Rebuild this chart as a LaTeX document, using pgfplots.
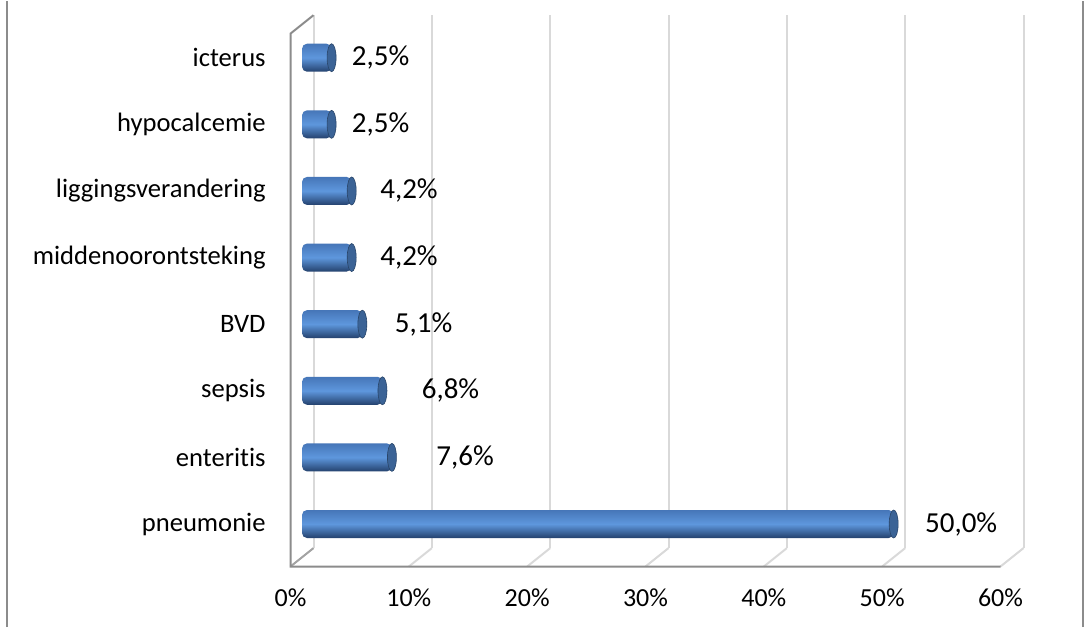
\documentclass[border=0pt]{standalone}
\usepackage{pgfplots}
\pgfplotsset{compat=1.18}
\usepackage{pgfplotstable}
\usepackage{fontspec}
\setmainfont{Carlito}[Ligatures=NoCommon]
\definecolor{barTop}{HTML}{4676B8}
\definecolor{barMid}{HTML}{5E97DD}
\definecolor{barBot}{HTML}{24416D}
\definecolor{capC}{HTML}{3B6396}
\definecolor{lightG}{HTML}{D9D9D9}
\definecolor{darkG}{HTML}{8C8C8C}
\pgfdeclareplotmark{cylcap}{%
  \pgfpathellipse{\pgfpointorigin}{\pgfqpoint{2.25pt}{0pt}}{\pgfqpoint{0pt}{7pt}}%
  \pgfusepathqfillstroke}
\pgfplotstableread{
pos value labx
0 50.0 55.7
1 7.6 13.78
2 6.8 12.55
3 5.1 10.27
4 4.2 9.04
5 4.2 9.04
6 2.5 6.64
7 2.5 6.64
}\datatable
\begin{document}
\begin{tikzpicture}
\path (0,0) rectangle (542.5pt,313pt);
\draw[darkG, line width=1pt] (3.5pt,0) -- (3.5pt,313pt);
\draw[darkG, line width=1pt] (541.6pt,0) -- (541.6pt,313pt);
\begin{axis}[
  set layers,
  at={(151pt,34.85pt)}, anchor=south west,
  scale only axis, width=355pt, height=266.45pt,
  xmin=0, xmax=60, ymin=-0.5, ymax=7.5,
  clip=false,
  axis line style={draw=none},
  tick style={draw=none},
  xtick={0,10,20,30,40,50,60},
  xticklabels={0\%,10\%,20\%,30\%,40\%,50\%,60\%},
  xticklabel style={font=\fontsize{13}{15}\selectfont, inner sep=0pt, anchor=north, yshift=-15.5pt, xshift=-5.75pt},
  ytick={0,...,7},
  yticklabels={pneumonie,enteritis,sepsis,BVD,middenoorontsteking,liggingsverandering,hypocalcemie,icterus},
  yticklabel style={font=\fontsize{13.3}{16}\selectfont, inner sep=0pt, anchor=east, xshift=-18pt},
]
\begin{pgfonlayer}{axis background}
\pgfplotsinvokeforeach{10,20,30,40,50,60}{
  \draw[lightG, line width=1pt] ([xshift=5.75pt,yshift=4.6pt]axis cs:#1,-0.5) -- ([xshift=5.75pt,yshift=4.6pt]axis cs:#1,7.5);
  \draw[lightG, line width=1pt] ([xshift=-5.75pt,yshift=-4.6pt]axis cs:#1,-0.5) -- ([xshift=5.75pt,yshift=4.6pt]axis cs:#1,-0.5);
}
\draw[lightG, line width=1pt] ([xshift=5.75pt,yshift=4.6pt]axis cs:0,-0.5) -- ([xshift=5.75pt,yshift=4.6pt]axis cs:0,7.5);
\draw[darkG!80, line width=1pt] ([xshift=-5.75pt,yshift=-4.6pt]axis cs:0,-0.5) -- ([xshift=5.75pt,yshift=4.6pt]axis cs:0,-0.5);
\draw[darkG, line width=1pt] ([xshift=-5.75pt,yshift=-4.6pt]axis cs:60,-0.5) -- ([xshift=-5.75pt,yshift=-4.6pt]axis cs:0,-0.5) -- ([xshift=-5.75pt,yshift=-4.6pt]axis cs:0,7.5) -- ([xshift=5.75pt,yshift=4.6pt]axis cs:0,7.5);
\end{pgfonlayer}
\pgfplotsinvokeforeach{0,...,7}{
\addplot[xbar, bar width=14pt, draw=none, rounded corners=2.5pt,
  top color=barTop, bottom color=barBot, middle color=barMid,
  restrict y to domain=#1:#1]
  table[x=value, y=pos] {\datatable};
}
\addplot[only marks, mark=cylcap, mark options={fill=capC, draw=capC!70!black, line width=0.3pt}]
  table[x=value, y=pos] {\datatable};
\addplot[draw=none, mark=none, point meta=explicit,
  nodes near coords={\pgfmathprintnumber[fixed,fixed zerofill,precision=1,use comma,assume math mode=true]{\pgfplotspointmeta}\%},
  nodes near coords align=center,
  every node near coord/.append style={font=\fontsize{14.5}{17}\selectfont, anchor=center, text=black}]
  table[x=labx, y=pos, meta=value] {\datatable};
\end{axis}
\end{tikzpicture}
\end{document}
